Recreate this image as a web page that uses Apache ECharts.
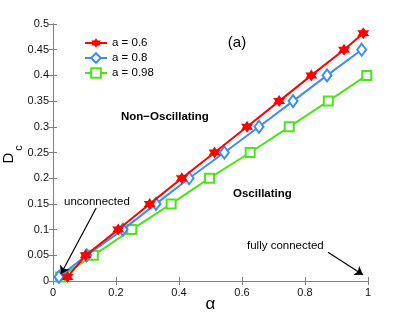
<!DOCTYPE html>
<html>
<head>
<meta charset="utf-8">
<script src="https://cdn.jsdelivr.net/npm/echarts@6/dist/echarts.min.js"></script>
<style>html,body{margin:0;padding:0;background:#fff;}#c{width:407px;height:317px;}</style>
</head>
<body>
<div id="c"></div>
<script>
var seriesNames = ['a = 0.6', 'a = 0.8', 'a = 0.98'];
var alphaRed = [0.046, 0.104, 0.207, 0.307, 0.409, 0.513, 0.616, 0.718, 0.82, 0.924, 0.985];
var dRed = [0.008, 0.05, 0.1, 0.15, 0.2, 0.25, 0.3, 0.35, 0.4, 0.45, 0.482];
var alphaBlue = [0.019, 0.107, 0.222, 0.327, 0.432, 0.544, 0.654, 0.762, 0.87, 0.98];
var dBlue = [0.008, 0.05, 0.1, 0.15, 0.2, 0.25, 0.3, 0.35, 0.4, 0.45];
var alphaGreen = [0.024, 0.128, 0.25, 0.375, 0.497, 0.626, 0.75, 0.874, 0.996];
var dGreen = [0.008, 0.05, 0.1, 0.15, 0.2, 0.25, 0.3, 0.35, 0.4];
var arrowUnconnected = [[0.137, 0.142], [0.025, 0.0136]];
var arrowFully = [[0.873, 0.056], [0.984, 0.012]];

function pairs(xs, ys) { return xs.map(function (x, i) { return [x, ys[i]]; }); }

var FONT = 'Liberation Sans';
var RED = '#ff0000', BLUE = '#3d8ef0', GREEN = '#4ce31a';
var star = 'path://M0,-10 L2.89,-5 L8.66,-5 L5.77,0 L8.66,5 L2.89,5 L0,10 L-2.89,5 L-8.66,5 L-5.77,0 L-8.66,-5 L-2.89,-5 Z';

var chart = echarts.init(document.getElementById('c'), null, {renderer: 'canvas'});
var axisLine = {show: true, lineStyle: {color: '#7f7f7f', width: 1}};
var tick = {show: true, inside: true, length: 4, lineStyle: {color: '#7f7f7f'}};
var lbl = {color: '#111', fontFamily: FONT, fontSize: 11};

chart.setOption({
  animation: false,
  backgroundColor: '#fff',
  grid: {left: 53, right: 39, top: 24, bottom: 36, show: false, containLabel: false, outerBoundsMode: 'none'},
  legend: {
    left: 79, top: 32, orient: 'vertical', itemWidth: 22, itemHeight: 12, itemGap: 3,
    textStyle: {fontFamily: FONT, fontSize: 11.5, color: '#000'},
    data: seriesNames
  },
  xAxis: [
    {type: 'value', min: 0, max: 1, interval: 0.2, axisLine: axisLine, axisTick: tick,
     splitLine: {show: false}, axisLabel: Object.assign({margin: 6}, lbl),
     name: 'α', nameLocation: 'middle', nameGap: 15, nameMoveOverlap: false,
     nameTextStyle: {fontFamily: FONT, fontSize: 17, color: '#000'}},
    {type: 'value', min: 0, max: 1, interval: 0.2, position: 'top', axisLine: axisLine, axisTick: tick,
     splitLine: {show: false}, axisLabel: {show: false}}
  ],
  yAxis: [
    {type: 'value', min: 0, max: 0.5, interval: 0.05, axisLine: axisLine, axisTick: tick,
     splitLine: {show: false}, axisLabel: Object.assign({margin: 4}, lbl)},
    {type: 'value', min: 0, max: 0.5, interval: 0.05, position: 'right', axisLine: axisLine, axisTick: tick,
     splitLine: {show: false}, axisLabel: {show: false}}
  ],
  series: [
    {name: seriesNames[0], type: 'line', data: pairs(alphaRed, dRed), symbol: star, symbolSize: 12,
     itemStyle: {color: RED}, lineStyle: {color: RED, width: 2}, z: 4,
     markLine: {silent: true, symbol: ['none', 'arrow'], symbolSize: 8, label: {show: false},
       lineStyle: {color: '#000', width: 1.2, type: 'solid'},
       data: [
         [{coord: arrowUnconnected[0]}, {coord: arrowUnconnected[1]}],
         [{coord: arrowFully[0]}, {coord: arrowFully[1]}]
       ]}},
    {name: seriesNames[1], type: 'line', data: pairs(alphaBlue, dBlue), symbol: 'emptyDiamond', symbolSize: [9, 12],
     itemStyle: {color: BLUE, borderWidth: 1.5}, lineStyle: {color: BLUE, width: 2}, z: 3},
    {name: seriesNames[2], type: 'line', data: pairs(alphaGreen, dGreen), symbol: 'emptyRect', symbolSize: 9,
     itemStyle: {color: GREEN, borderWidth: 1.5}, lineStyle: {color: GREEN, width: 2}, z: 2}
  ],
  graphic: [
    {type: 'text', x: 237, y: 43, style: {text: '(a)', font: '15px ' + FONT, fill: '#000', textAlign: 'center', textVerticalAlign: 'middle'}},
    {type: 'text', x: 121, y: 117, style: {text: 'Non\u2212Oscillating', font: 'bold 11.5px ' + FONT, fill: '#000', textAlign: 'left', textVerticalAlign: 'middle'}},
    {type: 'text', x: 233, y: 194, style: {text: 'Oscillating', font: 'bold 11.5px ' + FONT, fill: '#000', textAlign: 'left', textVerticalAlign: 'middle'}},
    {type: 'text', x: 64, y: 202, style: {text: 'unconnected', font: '11.5px ' + FONT, fill: '#000', textAlign: 'left', textVerticalAlign: 'middle'}},
    {type: 'text', x: 247, y: 246, style: {text: 'fully connected', font: '11.5px ' + FONT, fill: '#000', textAlign: 'left', textVerticalAlign: 'middle'}},
    {type: 'text', x: 9, y: 158, rotation: Math.PI / 2, style: {text: 'D', font: '15px ' + FONT, fill: '#000', textAlign: 'center', textVerticalAlign: 'middle'}},
    {type: 'text', x: 19, y: 148, rotation: Math.PI / 2, style: {text: 'c', font: '11px ' + FONT, fill: '#000', textAlign: 'center', textVerticalAlign: 'middle'}}
  ]
});
</script>
</body>
</html>
